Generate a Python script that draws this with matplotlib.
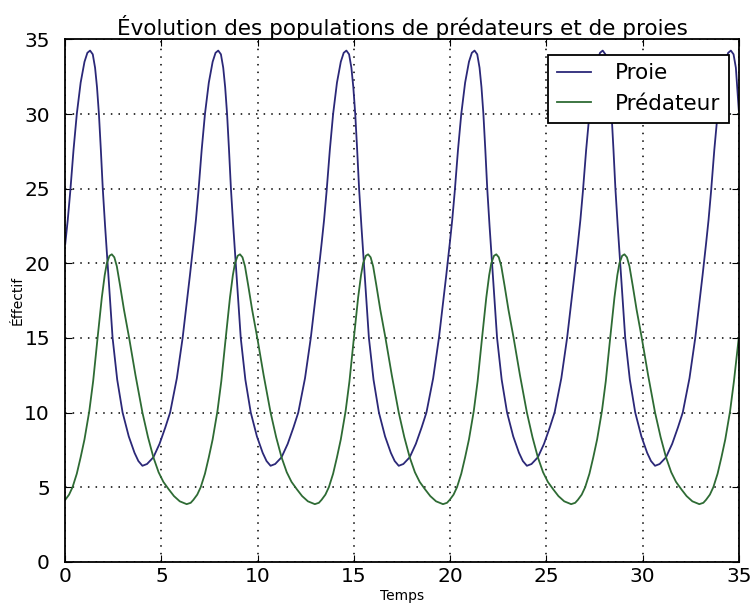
import matplotlib
matplotlib.use("Agg")
import matplotlib.pyplot as plt

# Proie (prey) readings
t_proie = [0.00, 0.13, 0.26, 0.43, 0.60, 0.80, 1.00, 1.15, 1.29, 1.43, 1.55, 1.65, 1.75, 1.85, 1.95,
           2.07, 2.20, 2.33, 2.46, 2.70, 2.98, 3.30, 3.60, 3.80, 4.01, 4.25, 4.58, 4.90, 5.20, 5.45,
           5.80, 6.10, 6.30, 6.48,
           6.66, 6.79, 6.92, 7.09, 7.26, 7.46, 7.66, 7.81, 7.95, 8.09, 8.21, 8.31, 8.41, 8.51, 8.61,
           8.73, 8.86, 8.99, 9.12, 9.36, 9.64, 9.96, 10.26, 10.46, 10.67, 10.91, 11.24, 11.56, 11.86,
           12.11, 12.46, 12.76, 12.96, 13.14,
           13.32, 13.45, 13.58, 13.75, 13.92, 14.12, 14.32, 14.47, 14.61, 14.75, 14.87, 14.97, 15.07,
           15.17, 15.27, 15.39, 15.52, 15.65, 15.78, 16.02, 16.30, 16.62, 16.92, 17.12, 17.33, 17.57,
           17.90, 18.22, 18.52, 18.77, 19.12, 19.42, 19.62, 19.80,
           19.98, 20.11, 20.24, 20.41, 20.58, 20.78, 20.98, 21.13, 21.27, 21.41, 21.53, 21.63, 21.73,
           21.83, 21.93, 22.05, 22.18, 22.31, 22.44, 22.68, 22.96, 23.28, 23.58, 23.78, 23.99, 24.23,
           24.56, 24.88, 25.18, 25.43, 25.78, 26.08, 26.28, 26.46,
           26.64, 26.77, 26.90, 27.07, 27.24, 27.44, 27.64, 27.79, 27.93, 28.07, 28.19, 28.29, 28.39,
           28.49, 28.59, 28.71, 28.84, 28.97, 29.10, 29.34, 29.62, 29.94, 30.24, 30.44, 30.65, 30.89,
           31.22, 31.54, 31.84, 32.09, 32.44, 32.74, 32.94, 33.12,
           33.30, 33.43, 33.56, 33.73, 33.90, 34.10, 34.30, 34.45, 34.59, 34.73, 34.85, 35.00]
proie = [21.3, 22.9, 24.8, 27.6, 30.0, 32.1, 33.5, 34.1, 34.25, 34.0, 33.1, 31.8, 30.0, 27.6, 25.0,
         22.5, 20.0, 17.4, 15.0, 12.2, 10.0, 8.4, 7.3, 6.75, 6.43, 6.55, 7.0, 7.9, 9.0, 10.0,
         12.3, 15.0, 17.2, 19.2,
         21.3, 22.9, 24.8, 27.6, 30.0, 32.1, 33.5, 34.1, 34.25, 34.0, 33.1, 31.8, 30.0, 27.6, 25.0,
         22.5, 20.0, 17.4, 15.0, 12.2, 10.0, 8.4, 7.3, 6.75, 6.43, 6.55, 7.0, 7.9, 9.0,
         10.0, 12.3, 15.0, 17.2, 19.2,
         21.3, 22.9, 24.8, 27.6, 30.0, 32.1, 33.5, 34.1, 34.25, 34.0, 33.1, 31.8, 30.0,
         27.6, 25.0, 22.5, 20.0, 17.4, 15.0, 12.2, 10.0, 8.4, 7.3, 6.75, 6.43, 6.55,
         7.0, 7.9, 9.0, 10.0, 12.3, 15.0, 17.2, 19.2,
         21.3, 22.9, 24.8, 27.6, 30.0, 32.1, 33.5, 34.1, 34.25, 34.0, 33.1, 31.8, 30.0,
         27.6, 25.0, 22.5, 20.0, 17.4, 15.0, 12.2, 10.0, 8.4, 7.3, 6.75, 6.43, 6.55,
         7.0, 7.9, 9.0, 10.0, 12.3, 15.0, 17.2, 19.2,
         21.3, 22.9, 24.8, 27.6, 30.0, 32.1, 33.5, 34.1, 34.25, 34.0, 33.1, 31.8, 30.0,
         27.6, 25.0, 22.5, 20.0, 17.4, 15.0, 12.2, 10.0, 8.4, 7.3, 6.75, 6.43, 6.55,
         7.0, 7.9, 9.0, 10.0, 12.3, 15.0, 17.2, 19.2,
         21.3, 22.9, 24.8, 27.6, 30.0, 32.1, 33.5, 34.1, 34.25, 34.0, 33.1, 30.3]

# Prédateur readings
t_pred = [0.00, 0.20, 0.38, 0.60, 0.80, 1.00, 1.25, 1.45, 1.68, 1.90, 2.05, 2.16, 2.30, 2.42, 2.55,
          2.68, 2.85, 3.05, 3.32, 3.65, 4.01, 4.30, 4.58, 4.85, 5.10, 5.38, 5.65, 5.95, 6.31, 6.52,
          6.66, 6.86, 7.04, 7.26, 7.46, 7.66, 7.91, 8.11, 8.34, 8.56, 8.71, 8.82, 8.96, 9.08, 9.21,
          9.34, 9.51, 9.71, 9.98, 10.31, 10.67, 10.96, 11.24, 11.51, 11.76, 12.04, 12.31, 12.61,
          12.97, 13.18,
          13.32, 13.52, 13.70, 13.92, 14.12, 14.32, 14.57, 14.77, 15.00, 15.22, 15.37, 15.48, 15.62,
          15.74, 15.87, 16.00, 16.17, 16.37, 16.64, 16.97, 17.33, 17.62, 17.90, 18.17, 18.42, 18.70,
          18.97, 19.27, 19.63, 19.84,
          19.98, 20.18, 20.36, 20.58, 20.78, 20.98, 21.23, 21.43, 21.66, 21.88, 22.03, 22.14, 22.28,
          22.40, 22.53, 22.66, 22.83, 23.03, 23.30, 23.63, 23.99, 24.28, 24.56, 24.83, 25.08, 25.36,
          25.63, 25.93, 26.29, 26.50,
          26.64, 26.84, 27.02, 27.24, 27.44, 27.64, 27.89, 28.09, 28.32, 28.54, 28.69, 28.80, 28.94,
          29.06, 29.19, 29.32, 29.49, 29.69, 29.96, 30.29, 30.65, 30.94, 31.22, 31.49, 31.74, 32.02,
          32.29, 32.59, 32.95, 33.16,
          33.30, 33.50, 33.68, 33.90, 34.10, 34.30, 34.55, 34.75, 35.00]
predateur = [4.15, 4.5, 5.0, 5.9, 7.0, 8.2, 10.1, 12.1, 15.0, 17.7, 19.2, 20.0, 20.5, 20.6, 20.4,
             19.8, 18.5, 16.9, 15.0, 12.5, 10.0, 8.35, 7.0, 6.0, 5.35, 4.85, 4.4, 4.05, 3.86, 3.95,
             4.15, 4.5, 5.0, 5.9, 7.0, 8.2, 10.1, 12.1, 15.0, 17.7, 19.2, 20.0, 20.5, 20.6, 20.4,
             19.8, 18.5, 16.9, 15.0, 12.5, 10.0, 8.35, 7.0, 6.0, 5.35, 4.85, 4.4, 4.05,
             3.86, 3.95,
             4.15, 4.5, 5.0, 5.9, 7.0, 8.2, 10.1, 12.1, 15.0, 17.7, 19.2, 20.0, 20.5,
             20.6, 20.4, 19.8, 18.5, 16.9, 15.0, 12.5, 10.0, 8.35, 7.0, 6.0, 5.35, 4.85,
             4.4, 4.05, 3.86, 3.95,
             4.15, 4.5, 5.0, 5.9, 7.0, 8.2, 10.1, 12.1, 15.0, 17.7, 19.2, 20.0, 20.5,
             20.6, 20.4, 19.8, 18.5, 16.9, 15.0, 12.5, 10.0, 8.35, 7.0, 6.0, 5.35, 4.85,
             4.4, 4.05, 3.86, 3.95,
             4.15, 4.5, 5.0, 5.9, 7.0, 8.2, 10.1, 12.1, 15.0, 17.7, 19.2, 20.0, 20.5,
             20.6, 20.4, 19.8, 18.5, 16.9, 15.0, 12.5, 10.0, 8.35, 7.0, 6.0, 5.35, 4.85,
             4.4, 4.05, 3.86, 3.95,
             4.15, 4.5, 5.0, 5.9, 7.0, 8.2, 10.1, 12.1, 15.0]

fig = plt.figure(figsize=(7.5, 6.06), dpi=100)
ax = fig.add_axes([0.087, 0.073, 0.898, 0.862])

ax.plot(t_proie, proie, color="#2b2878", lw=1.3, label="Proie")
ax.plot(t_pred, predateur, color="#2e6b34", lw=1.3, label="Prédateur")

ax.set_xlim(0, 35)
ax.set_ylim(0, 35)
ax.set_xticks(range(0, 36, 5))
ax.set_yticks(range(0, 36, 5))
ax.tick_params(direction="in", top=True, right=True, labelsize=14.5, length=5)
ax.tick_params(axis="y", pad=11)
ax.tick_params(axis="x", pad=4)
ax.grid(True, linestyle=(0, (1, 4)), color="black", linewidth=1.1)
for s in ax.spines.values():
    s.set_linewidth(1.3)

ax.set_title("Évolution des populations de prédateurs et de proies", fontsize=15.5, pad=3)
ax.set_xlabel("Temps", fontsize=10, labelpad=2)
ax.set_ylabel("Éffectif", fontsize=10, labelpad=0)

leg = ax.legend(loc="upper right", bbox_to_anchor=(0.9855, 0.971), borderaxespad=0,
                fontsize=15.5, fancybox=False, framealpha=1, edgecolor="black",
                handlelength=1.6, handletextpad=1.1)
leg.get_frame().set_linewidth(1.3)

fig.savefig("out.png", dpi=100)
